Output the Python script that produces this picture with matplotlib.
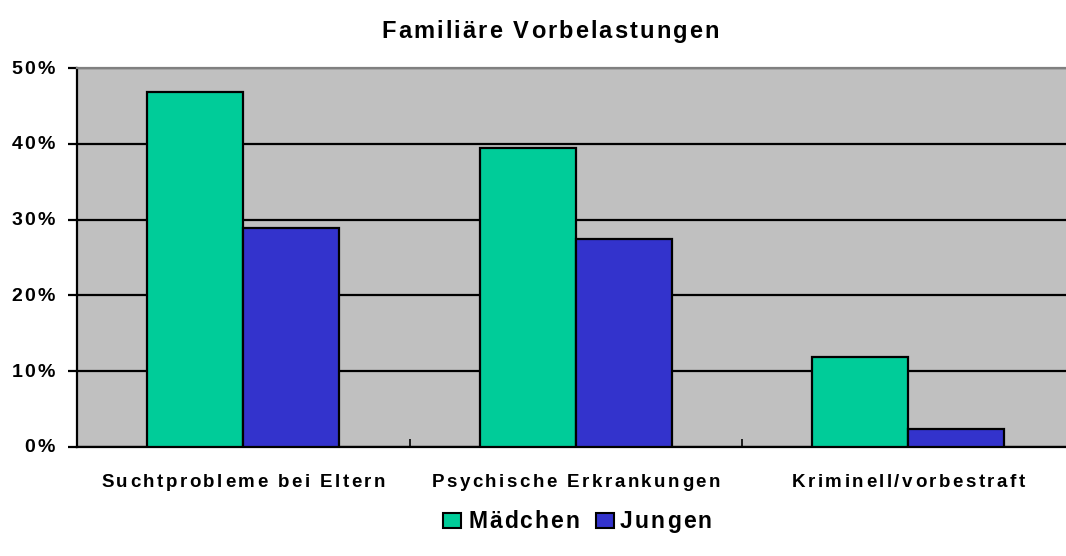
import matplotlib
matplotlib.use("Agg")
import matplotlib.pyplot as plt
import numpy as np
from matplotlib.patches import Rectangle
from matplotlib.font_manager import FontProperties

categories = ["Suchtprobleme bei Eltern", "Psychische Erkrankungen", "Kriminell/vorbestraft"]
maedchen = [46.8, 39.4, 11.9]
jungen = [28.9, 27.4, 2.4]
series_names = ["Mädchen", "Jungen"]
series_colors = ["#00CC99", "#3333CC"]
yticks = [0, 10, 20, 30, 40, 50]
ytick_labels = ["0%", "10%", "20%", "30%", "40%", "50%"]
title = "Familiäre Vorbelastungen"

W, H, DPI = 1066, 556, 100
plt.rcParams['font.family'] = ['Liberation Sans', 'DejaVu Sans']

fig = plt.figure(figsize=(W / DPI, H / DPI), dpi=DPI)
_renderer = fig.canvas.get_renderer()


def _adv(c, prop):
    w1 = _renderer.get_text_width_height_descent("x" + c + "x", prop, ismath=False)[0]
    w0 = _renderer.get_text_width_height_descent("xx", prop, ismath=False)[0]
    return w1 - w0


def spaced_text(x_px, y_px, s, size, spacing, ha='center'):
    """Letter-spaced text; x_px, y_px in pixels from top-left, y is the baseline."""
    prop = FontProperties(family='Liberation Sans', weight='bold', size=size)
    advs = [_adv(c, prop) for c in s]
    total = sum(advs) + spacing * (len(s) - 1)
    if ha == 'center':
        pos = x_px - total / 2
    elif ha == 'right':
        pos = x_px - total
    else:
        pos = x_px
    for c, a in zip(s, advs):
        if c != ' ':
            fig.text(pos / W, 1 - y_px / H, c, ha='left', va='baseline',
                     fontproperties=prop)
        pos += a + spacing


# plot area: extends a little beyond the right edge of the figure (clipped)
ax_l, ax_r, ax_t, ax_b = 77, 1074.5, 68, 447
ax = fig.add_axes([ax_l / W, 1 - ax_b / H, (ax_r - ax_l) / W, (ax_b - ax_t) / H])
ax.set_facecolor('#C0C0C0')

x = np.arange(len(categories))
w = 0.289
ax.bar(x - w / 2, maedchen, w, color=series_colors[0], edgecolor='black', linewidth=1.6, zorder=3)
ax.bar(x + w / 2, jungen, w, color=series_colors[1], edgecolor='black', linewidth=1.6, zorder=3)

ax.set_xlim(-0.5, 2.5)
ax.set_ylim(0, 50)
ax.set_yticks(yticks)
ax.set_yticklabels([])
ax.yaxis.grid(True, color='black', linewidth=1.6, zorder=1)
ax.set_axisbelow(True)

ax.set_xticks([0.5, 1.5])
ax.set_xticklabels([])
ax.tick_params(axis='x', direction='in', length=6, width=1.2, color='black')
ax.tick_params(axis='y', direction='out', length=6.5, width=1.6)

ax.spines['left'].set_linewidth(1.6)
ax.spines['bottom'].set_linewidth(1.6)
ax.spines['top'].set_color('#808080')
ax.spines['top'].set_linewidth(1.6)
ax.spines['right'].set_visible(False)

# y tick labels
for v, lab in zip(yticks, ytick_labels):
    y_px = ax_b - (ax_b - ax_t) * v / 50.0
    spaced_text(55, y_px + 5.5, lab, 14, 2.2, ha='right')

# category labels
cat_w = (ax_r - ax_l) / len(categories)
for i, c in enumerate(categories):
    spaced_text(ax_l + cat_w * (i + 0.5), 487, c, 13.5, 2.5, ha='center')

# title
spaced_text(550, 38, title, 17, 2.1, ha='center')

# legend
leg_base = 528
box_x = [443, 596]
text_x = [468, 620]
for bx, tx, name, col in zip(box_x, text_x, series_names, series_colors):
    fig.patches.append(Rectangle((bx / W, 1 - leg_base / H), 18 / W, 15 / H,
                                 transform=fig.transFigure, facecolor=col,
                                 edgecolor='black', linewidth=1.5))
    spaced_text(tx, leg_base, name, 16.5, 2.0, ha='left')

fig.savefig('out.png', dpi=DPI)
